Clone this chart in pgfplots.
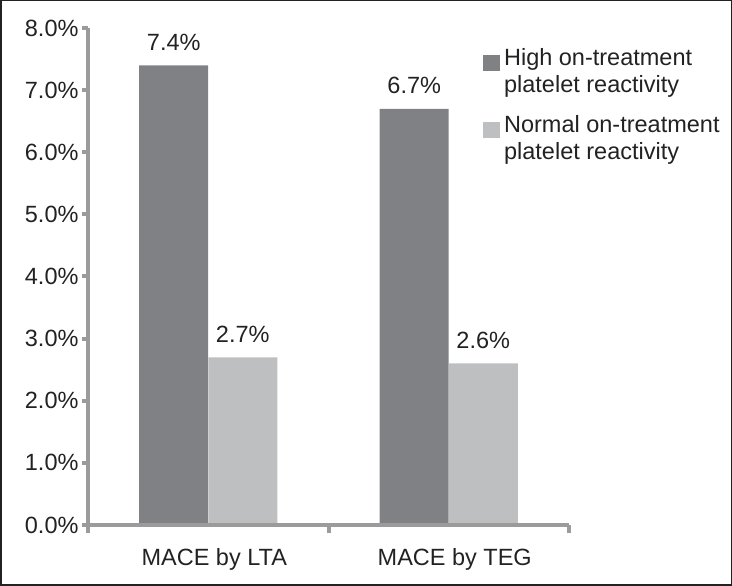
\documentclass[border=0pt]{standalone}
\usepackage{fontspec}
\setmainfont{Liberation Sans}
\usepackage{pgfplots}
\pgfplotsset{compat=1.18}
\definecolor{darkbar}{HTML}{808185}
\definecolor{lightbar}{HTML}{BEBFC1}
\definecolor{axgray}{HTML}{9B9B9B}
\definecolor{txt}{HTML}{222222}
\newcommand\cf{\fontsize{23.5}{27}\selectfont}
\begin{document}
\begin{tikzpicture}[x=1pt,y=1pt]
\useasboundingbox (0,0) rectangle (732,586);
\draw[line width=1.5pt, color=txt] (0.75,0.75) rectangle (731.25,585.25);
\begin{axis}[
  at={(88pt,61pt)}, anchor=south west,
  scale only axis, width=481pt, height=497pt,
  xmin=0, xmax=2, ymin=0, ymax=8,
  axis x line*=bottom, axis y line*=left,
  axis line style={draw=none},
  tick align=outside,
  tick style={draw=none},
  major tick length=7pt,
  /pgf/number format/assume math mode=true,
  ytick={0,1,...,8},
  yticklabel={\pgfmathprintnumber[fixed,fixed zerofill,precision=1]{\tick}\%},
  yticklabel style={xshift=1pt},
  xtick={0,1,2}, xticklabels={},
  extra x ticks={0.5,1.5},
  extra x tick labels={MACE by LTA, MACE by TEG},
  extra x tick style={major tick length=0pt, xticklabel style={anchor=base, yshift=-41pt, xshift=6pt}},
  tick label style={font=\cf, text=txt},
  ybar=0pt, bar width=0.2869,
  nodes near coords={\pgfmathprintnumber[fixed,fixed zerofill,precision=1]{\pgfplotspointmeta}\%},
  every node near coord/.append style={font=\cf, text=txt, anchor=base, yshift=15pt},
  legend style={at={(0.821,0.960)}, anchor=north west, draw=none, fill=none,
    inner sep=0pt, row sep=22pt, column sep=4pt, font=\cf, text=txt,
    cells={align=left}, nodes={inner sep=0pt}},
  legend cell align=left,
  clip=false,
]
\addplot[fill=darkbar, draw=none, bar shift=-0.1435,
  legend image code/.code={\fill[darkbar] (0pt,0pt) rectangle (17pt,16pt);}]
  coordinates {(0.5,7.4) (1.5,6.7)};
\addplot[fill=lightbar, draw=none, bar shift=0.1435,
  legend image code/.code={\fill[lightbar] (0pt,0pt) rectangle (17pt,16pt);}]
  coordinates {(0.5,2.7) (1.5,2.6)};
\legend{High on-treatment\\platelet reactivity, Normal on-treatment\\platelet reactivity}
% axis lines and ticks
\draw[axgray, line width=4.5pt] (rel axis cs:0,1) -- (rel axis cs:0,0) -- (rel axis cs:1,0);
\pgfplotsinvokeforeach{0,1,...,8}{
  \draw[axgray, line width=4pt] ([xshift=-6pt]axis cs:0,#1) -- (axis cs:0,#1);
}
\pgfplotsinvokeforeach{0,1,2}{
  \draw[axgray, line width=4pt] ([yshift=-8pt]axis cs:#1,0) -- (axis cs:#1,0);
}
\end{axis}
\end{tikzpicture}
\end{document}
